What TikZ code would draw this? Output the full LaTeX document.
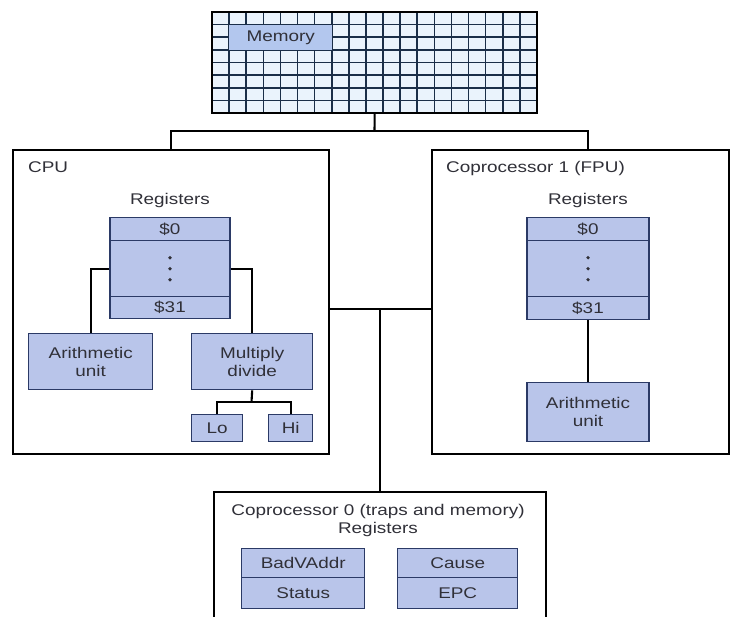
\documentclass[tikz,border=0pt]{standalone}
\usepackage{fontspec}
\setmainfont{Liberation Sans}[FakeStretch=1.22]
\usetikzlibrary{calc}
\definecolor{regfill}{HTML}{B9C5EA}
\definecolor{regline}{HTML}{2B3A66}
\definecolor{memfill}{HTML}{EAF3FC}
\definecolor{memgrid}{HTML}{1A2E48}
\definecolor{memlab}{HTML}{B3C7EE}
\definecolor{txt}{HTML}{303038}
\begin{document}
\begin{tikzpicture}[x=1pt,y=-1pt,
  outer/.style={draw=black, line width=2pt, fill=white, inner sep=0pt},
  regbox/.style={draw=regline, line width=1.4pt, fill=regfill, inner sep=0pt, text=txt,
    font=\fontsize{15.5}{18}\selectfont, align=center},
  conn/.style={line width=2.1pt, black},
  lbl/.style={text=txt, inner sep=0pt, font=\fontsize{15.5}{18}\selectfont},
  dotmark/.style={fill=txt}]
\useasboundingbox (0,0) rectangle (731,616);
\fill[white] (0,0) rectangle (731,616);

% memory
\node[inner sep=0pt, minimum width=325, minimum height=101, anchor=north west, fill=memfill] (mem) at (212,12) {};
\foreach \i in {1,...,18} \draw[memgrid, line width=1.6pt] ({212+\i*325/19},12) -- ({212+\i*325/19},113);
\foreach \j in {1,...,7} \draw[memgrid, line width=1.6pt] (212,{12+\j*101/8}) -- (537,{12+\j*101/8});
\draw[line width=2pt] (mem.north west) rectangle (mem.south east);
\node[fill=memlab, inner sep=0pt, minimum width=103, minimum height=25, anchor=north west, text=txt,
  font=\fontsize{15.5}{18}\selectfont] (memlbl) at (229,25) {Memory};

% outer boxes
\node[outer, anchor=north west, minimum width=316, minimum height=304] (cpu) at (12,149) {};
\node[outer, anchor=north west, minimum width=297, minimum height=304] (fpu) at (431,149) {};
\node[outer, anchor=north west, minimum width=332, minimum height=150] (cp0) at (213,491) {};

% bus
\coordinate (bus) at (374.5,131);
\coordinate (ftop) at (588,149);
\draw[conn] (mem.south) -- (bus);
\draw[conn] (cpu.north) |- (bus) -| (ftop);
\coordinate (mid) at (380,309);
\draw[conn] (cpu.east |- mid) -- (fpu.west |- mid);
\draw[conn] (mid) -- (cp0.north);

% CPU
\node[lbl, anchor=west] (cpul) at (28,167) {CPU};
\node[lbl] (cregl) at (170,200) {Registers};
\node[regbox, minimum width=120, minimum height=23, anchor=north] (c0) at (170,217) {\$0};
\node[regbox, minimum width=120, minimum height=56, anchor=north] (cd) at (170,240) {};
\node[regbox, minimum width=120, minimum height=22, anchor=north] (c31) at (170,296) {\$31};
\foreach \d in {-11,0,11} \fill[dotmark] ($(cd.center)+(0,\d)$) circle (1.8);
\node[regbox, minimum width=124, minimum height=56, anchor=north west] (cau) at (28,333) {Arithmetic\\unit};
\node[regbox, minimum width=121, minimum height=56, anchor=north west] (cmd) at (191,333) {Multiply\\divide};
\node[regbox, minimum width=51, minimum height=27, anchor=north west] (lo) at (191,414) {Lo};
\node[regbox, minimum width=44, minimum height=27, anchor=north west] (hi) at (268,414) {Hi};
\draw[conn] (cd.west) -| (cau.north);
\draw[conn] (cd.east) -| (cmd.north);
\coordinate (fork) at (251.5,402);
\draw[conn] (cmd.south) -- (fork);
\draw[conn] (lo.north) |- (fork) -| (hi.north);

% FPU
\node[lbl, anchor=west] (fpul) at (446,168) {Coprocessor 1 (FPU)};
\node[lbl] (fregl) at (588,200) {Registers};
\node[regbox, minimum width=122, minimum height=23, anchor=north] (f0) at (588,217) {\$0};
\node[regbox, minimum width=122, minimum height=56, anchor=north] (fd) at (588,240) {};
\node[regbox, minimum width=122, minimum height=23, anchor=north] (f31) at (588,296) {\$31};
\foreach \d in {-11,0,11} \fill[dotmark] ($(fd.center)+(0,\d)$) circle (1.8);
\node[regbox, minimum width=122, minimum height=59, anchor=north] (fau) at (588,382) {Arithmetic\\unit};
\draw[conn] (f31.south) -- (fau.north);

% CP0
\node[lbl] (cp0l) at (378,511) {Coprocessor 0 (traps and memory)};
\node[lbl] (cp0r) at (378,529) {Registers};
\node[regbox, minimum width=123, minimum height=29, anchor=north west] (bad) at (241,548) {BadVAddr};
\node[regbox, minimum width=123, minimum height=31, anchor=north west] (stat) at (241,577) {Status};
\node[regbox, minimum width=120, minimum height=29, anchor=north west] (cause) at (397,548) {Cause};
\node[regbox, minimum width=120, minimum height=31, anchor=north west] (epc) at (397,577) {EPC};
\end{tikzpicture}
\end{document}
